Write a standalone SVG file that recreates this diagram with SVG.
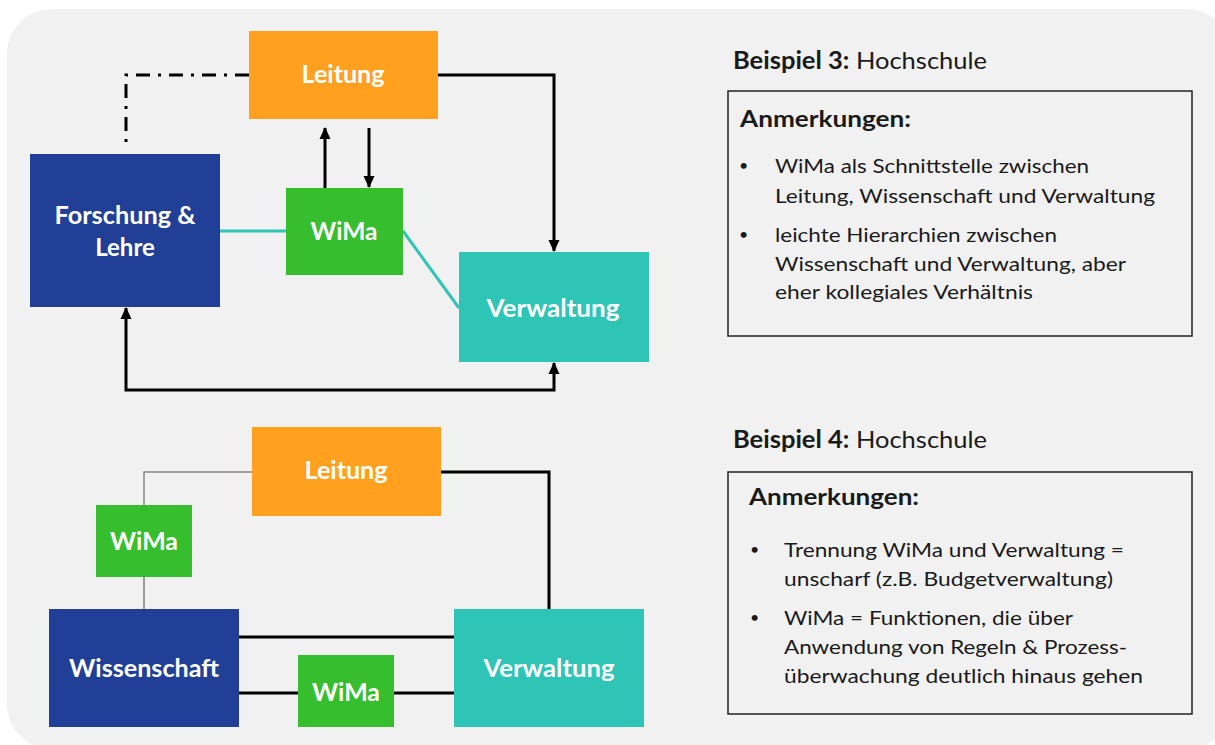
<svg xmlns="http://www.w3.org/2000/svg" width="1215" height="745" viewBox="0 0 1215 745">
<defs>
<marker id="ah" markerUnits="userSpaceOnUse" markerWidth="12" markerHeight="12" viewBox="0 0 12 12" refX="11" refY="6" orient="auto-start-reverse">
<path d="M0,0.5 L12,6 L0,11.5 Z" fill="#000"/>
</marker>
<style>
.nt{font-family:Lato,"Open Sans",sans-serif;font-weight:bold;font-size:24px;fill:#fff;text-anchor:middle}
.t{font-family:Lato,"Open Sans",sans-serif;font-size:20px;fill:#1a1a1a}
.h{font-size:24px}
.a{font-size:23px;font-weight:bold}
.bu{font-size:16px}
.b{font-weight:bold}
.k{fill:none;stroke:#000;stroke-width:3}
.tl{fill:none;stroke:#2EC4B6;stroke-width:3}
.box{fill:none;stroke:#222;stroke-width:1.5}
</style>
</defs>
<rect x="0" y="0" width="1215" height="745" fill="#fff"/>
<rect x="7" y="9" width="1225" height="740" rx="45" fill="#F1F1F1"/>

<g id="connectors">
<path class="k" d="M249,75 H126 V143" stroke-dasharray="14 8 3 8"/>
<path class="k" d="M438,75 H554 V251" marker-end="url(#ah)"/>
<path class="k" d="M325,188 V128" marker-end="url(#ah)"/>
<path class="k" d="M369,128 V187" marker-end="url(#ah)"/>
<path class="tl" d="M220,231 H286"/>
<path class="tl" d="M403,231 L459,308"/>
<path class="k" d="M126,308 V390 H554 V363" marker-start="url(#ah)" marker-end="url(#ah)"/>
<path d="M252,472 H144 V505" fill="none" stroke="#888" stroke-width="1.5"/>
<path d="M144,577 V609" fill="none" stroke="#444" stroke-width="1"/>
<path class="k" d="M441,472 H549 V609"/>
<path class="k" d="M239,637 H454"/>
<path class="k" d="M239,693 H298 M394,693 H454"/>
</g>

<g id="n-leitung1"><rect x="249" y="31" width="189" height="88" fill="#FFA01F"/><text class="nt" x="343" y="83" textLength="83" lengthAdjust="spacingAndGlyphs">Leitung</text></g>
<g id="n-forschung"><rect x="30" y="154" width="190" height="153" fill="#223F97"/><text class="nt" x="125" y="224" textLength="141" lengthAdjust="spacingAndGlyphs">Forschung &amp;</text><text class="nt" x="125" y="256">Lehre</text></g>
<g id="n-wima1"><rect x="286" y="188" width="117" height="87" fill="#36BE2E"/><text class="nt" x="344" y="240" textLength="67" lengthAdjust="spacingAndGlyphs">WiMa</text></g>
<g id="n-verwaltung1"><rect x="459" y="252" width="190" height="110" fill="#2EC4B6"/><text class="nt" x="553" y="317" textLength="133" lengthAdjust="spacingAndGlyphs">Verwaltung</text></g>

<g id="n-leitung2"><rect x="252" y="427" width="189" height="89" fill="#FFA01F"/><text class="nt" x="346" y="479" textLength="83" lengthAdjust="spacingAndGlyphs">Leitung</text></g>
<g id="n-wima2"><rect x="96" y="505" width="96" height="72" fill="#36BE2E"/><text class="nt" x="144" y="550" textLength="68" lengthAdjust="spacingAndGlyphs">WiMa</text></g>
<g id="n-wissenschaft"><rect x="49" y="609" width="190" height="118" fill="#223F97"/><text class="nt" x="144" y="677" textLength="150" lengthAdjust="spacingAndGlyphs">Wissenschaft</text></g>
<g id="n-wima3"><rect x="298" y="655" width="96" height="72" fill="#36BE2E"/><text class="nt" x="346" y="701" textLength="68" lengthAdjust="spacingAndGlyphs">WiMa</text></g>
<g id="n-verwaltung2"><rect x="454" y="609" width="190" height="118" fill="#2EC4B6"/><text class="nt" x="549" y="677" textLength="131" lengthAdjust="spacingAndGlyphs">Verwaltung</text></g>

<g id="notes3">
<text class="t h" x="733" y="69" textLength="254" lengthAdjust="spacingAndGlyphs"><tspan class="b">Beispiel 3:</tspan> Hochschule</text>
<rect class="box" x="728" y="91" width="464" height="245"/>
<text class="t a" x="740" y="127" textLength="171" lengthAdjust="spacingAndGlyphs">Anmerkungen:</text>
<text class="t bu" x="739" y="171">•</text>
<text class="t" x="775" y="173" textLength="314" lengthAdjust="spacingAndGlyphs">WiMa als Schnittstelle zwischen</text>
<text class="t" x="775" y="203" textLength="380" lengthAdjust="spacingAndGlyphs">Leitung, Wissenschaft und Verwaltung</text>
<text class="t bu" x="739" y="240">•</text>
<text class="t" x="775" y="242" textLength="282" lengthAdjust="spacingAndGlyphs">leichte Hierarchien zwischen</text>
<text class="t" x="775" y="271" textLength="351" lengthAdjust="spacingAndGlyphs">Wissenschaft und Verwaltung, aber</text>
<text class="t" x="775" y="299" textLength="258" lengthAdjust="spacingAndGlyphs">eher kollegiales Verhältnis</text>
</g>

<g id="notes4">
<text class="t h" x="733" y="448" textLength="254" lengthAdjust="spacingAndGlyphs"><tspan class="b">Beispiel 4:</tspan> Hochschule</text>
<rect class="box" x="728" y="472" width="464" height="242"/>
<text class="t a" x="749" y="505" textLength="170" lengthAdjust="spacingAndGlyphs">Anmerkungen:</text>
<text class="t bu" x="750" y="555">•</text>
<text class="t" x="784" y="557" textLength="340" lengthAdjust="spacingAndGlyphs">Trennung WiMa und Verwaltung =</text>
<text class="t" x="784" y="586" textLength="329" lengthAdjust="spacingAndGlyphs">unscharf (z.B. Budgetverwaltung)</text>
<text class="t bu" x="750" y="623">•</text>
<text class="t" x="784" y="625" textLength="289" lengthAdjust="spacingAndGlyphs">WiMa = Funktionen, die über</text>
<text class="t" x="784" y="654" textLength="343" lengthAdjust="spacingAndGlyphs">Anwendung von Regeln &amp; Prozess-</text>
<text class="t" x="784" y="683" textLength="359" lengthAdjust="spacingAndGlyphs">überwachung deutlich hinaus gehen</text>
</g>
</svg>
